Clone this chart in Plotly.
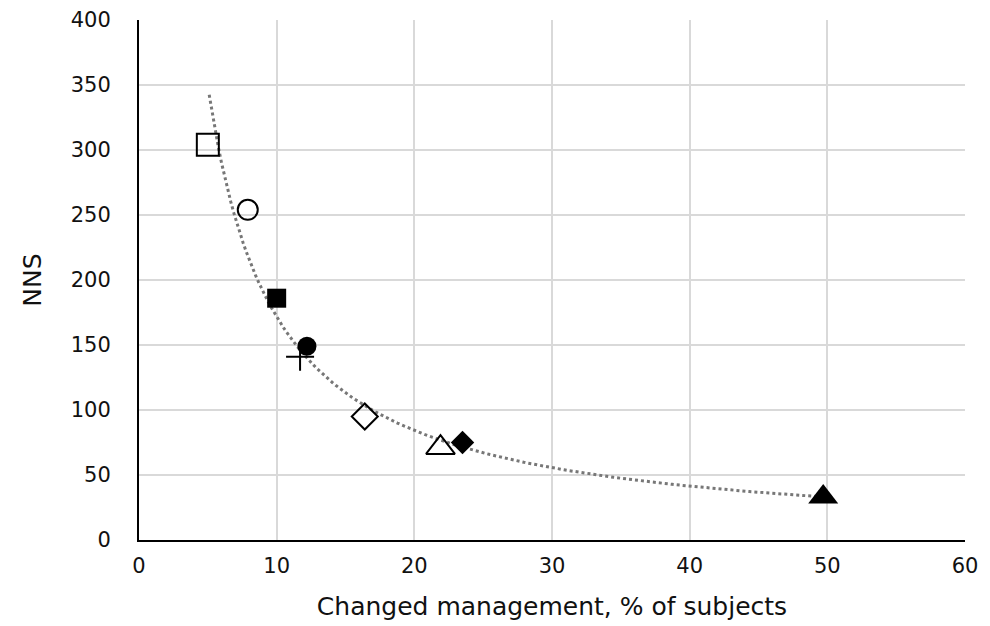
import numpy as np
import plotly.graph_objects as go

# Data
x_vals = [5.0, 7.9, 10.0, 12.2, 11.7, 16.4, 21.9, 23.5, 49.7]
y_vals = [304, 254, 186, 149, 141, 95, 71, 75, 33]
symbols = ["square-open", "circle-open", "square", "circle", "cross-thin",
           "diamond-open", "triangle-up-open", "diamond", "triangle-up"]
sizes = [22, 20, 19, 19, 20, 20, 25, 18, 26]

x_ticks = [0, 10, 20, 30, 40, 50, 60]
y_ticks = [0, 50, 100, 150, 200, 250, 300, 350, 400]

# Power trendline fitted to the points
b, loga = np.polyfit(np.log(x_vals), np.log(y_vals), 1)
xt = np.linspace(5.1, 49.7, 200)
yt = np.exp(loga) * xt ** b

fig = go.Figure()
fig.add_trace(go.Scatter(x=xt, y=yt, mode="lines",
                         line=dict(color="#777777", width=3, dash="dot"),
                         hoverinfo="skip", showlegend=False))
for xv, yv, s, sz in zip(x_vals, y_vals, symbols, sizes):
    fig.add_trace(go.Scatter(
        x=[xv], y=[yv], mode="markers", showlegend=False,
        marker=dict(symbol=s, size=sz, color="black",
                    line=dict(color="black", width=2 if "open" in s or "thin" in s else 0))))

font = dict(family="DejaVu Sans, Liberation Sans, sans-serif", size=21, color="#111111")
fig.update_layout(
    width=990, height=626, plot_bgcolor="white", paper_bgcolor="white",
    margin=dict(l=131, r=33, t=12, b=94, autoexpand=False), font=font,
    xaxis=dict(range=[0, 60], tickvals=x_ticks, showgrid=True, gridcolor="#d9d9d9",
               gridwidth=2, zeroline=False, showline=True, linecolor="black",
               linewidth=2, ticks="", ticklabelstandoff=6, automargin=False,
               title=dict(text="Changed management, % of subjects", standoff=20),
               tickfont=font),
    yaxis=dict(range=[0, 400], tickvals=y_ticks, showgrid=True, gridcolor="#d9d9d9",
               gridwidth=2, zeroline=False, showline=True, linecolor="black",
               linewidth=2, ticks="", ticklabelstandoff=22, automargin=False,
               title=dict(text="NNS", standoff=22), tickfont=font),
)
fig.write_html("out.html")
